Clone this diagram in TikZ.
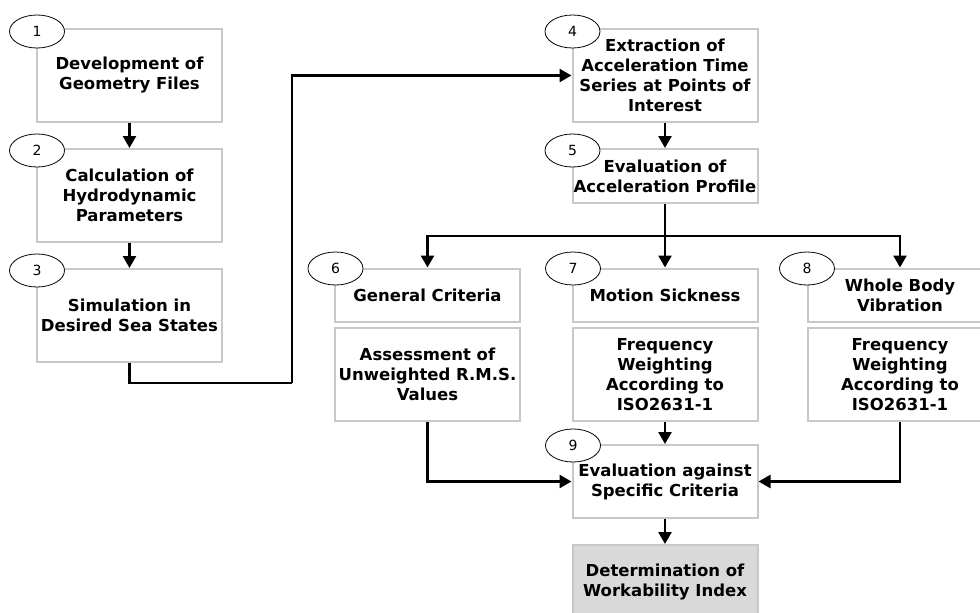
\documentclass[tikz,border=0pt]{standalone}
\usepackage{fontspec}
\setmainfont{DejaVu Sans}
\usetikzlibrary{shapes.geometric,arrows.meta}
\definecolor{boxgray}{RGB}{200,200,200}
\definecolor{finalfill}{RGB}{217,217,217}
\tikzset{
  box/.style={draw=boxgray, line width=2pt, fill=white, rectangle, minimum width=185pt,
    inner sep=0pt, align=center, font=\bfseries\fontsize{16.5}{20}\selectfont},
  numel/.style={draw=black, line width=0.8pt, fill=white, ellipse, minimum width=55pt,
    minimum height=33pt, inner sep=0pt, font=\fontsize{14}{16}\selectfont},
  arr/.style={draw=black, line width=2.5pt, -{Triangle[length=12pt,width=13pt]}},
  ln/.style={draw=black, line width=2.5pt}
}
\begin{document}
\begin{tikzpicture}[x=1pt,y=-1pt]
\useasboundingbox (0,0) rectangle (980,613);
\clip (0,0) rectangle (980,613);
% left column
\node[box, minimum height=93pt] (n1) at (129.5,75.5) {Development of\\Geometry Files};
\node[box, minimum height=93pt] (n2) at (129.5,195.5) {Calculation of\\Hydrodynamic\\Parameters};
\node[box, minimum height=93pt] (n3) at (129.5,315.5) {Simulation in\\Desired Sea States};
% right column
\node[box, minimum height=93pt] (n4) at (665,75.5) {Extraction of\\Acceleration Time\\Series at Points of\\Interest};
\node[box, minimum height=54pt] (n5) at (665,176) {Evaluation of\\Acceleration Profile};
\node[box, minimum height=53pt] (n6) at (427.5,295) {General Criteria};
\node[box, minimum height=93pt] (n6b) at (427.5,374.5) {Assessment of\\Unweighted R.M.S.\\Values};
\node[box, minimum height=53pt] (n7) at (665,295) {Motion Sickness};
\node[box, minimum height=93pt] (n7b) at (665,374.5) {Frequency\\Weighting\\According to\\ISO2631-1};
\node[box, minimum height=53pt] (n8) at (900,295) {Whole Body\\Vibration};
\node[box, minimum height=93pt] (n8b) at (900,374.5) {Frequency\\Weighting\\According to\\ISO2631-1};
\node[box, minimum height=73pt] (n9) at (665,481.5) {Evaluation against\\Specific Criteria};
\node[box, minimum height=74pt, fill=finalfill] (n10) at (665,582) {Determination of\\Workability Index};
% number ellipses
\node[numel] (e1) at (37,31.5) {1};
\node[numel] (e2) at (37,150.5) {2};
\node[numel] (e3) at (37,270.5) {3};
\node[numel] (e4) at (572.5,31.5) {4};
\node[numel] (e5) at (572.5,150.5) {5};
\node[numel] (e6) at (335.5,268.5) {6};
\node[numel] (e7) at (573,268.5) {7};
\node[numel] (e8) at (807,268.5) {8};
\node[numel] (e9) at (573,445.5) {9};
% connectors
\coordinate (c1) at (292,383);
\coordinate (j) at (665,236);
\draw[arr] (n1.south) -- (n2.north);
\draw[arr] (n2.south) -- (n3.north);
\draw[ln] (n3.south) |- (c1);
\draw[arr] (c1) |- (n4.west);
\draw[arr] (n4.south) -- (n5.north);
\draw[arr] (n5.south) -- (n7.north);
\draw[arr] (j) -| (n6.north);
\draw[arr] (j) -| (n8.north);
\draw[arr] (n6b.south) |- (n9.west);
\draw[arr] (n8b.south) |- (n9.east);
\draw[arr] (n7b.south) -- (n9.north);
\draw[arr] (n9.south) -- (n10.north);
\end{tikzpicture}
\end{document}
